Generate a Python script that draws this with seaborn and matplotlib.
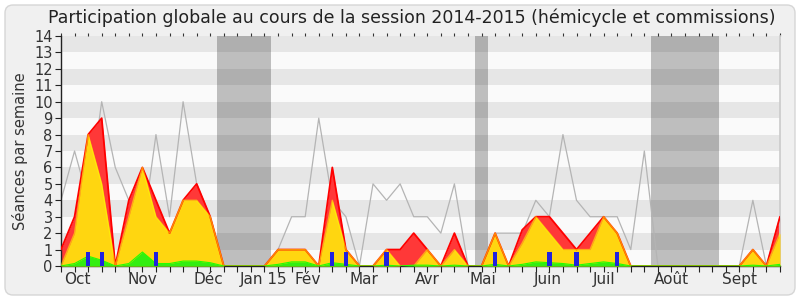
import numpy as np
import pandas as pd
import matplotlib
matplotlib.use("Agg")
import matplotlib.pyplot as plt
import seaborn as sns
from matplotlib.patches import FancyBboxPatch

# ---------------- data ----------------
weeks = list(range(54))
mediane = [4, 7, 4, 10, 6, 4, 2, 8, 3, 10, 5, 3, 0, 0, 0, 0, 1, 3, 3, 9,
           4, 3, 0, 5, 4, 5, 3, 3, 2, 5, 0, 0, 2, 2, 2, 4, 3, 8, 4, 3,
           3, 3, 1, 7, 0, 0, 0, 0, 0, 0, 0, 4, 0, 3]
seances_total = [1, 3, 8, 9, 0, 4, 6, 4, 2, 4, 5, 3, 0, 0, 0, 0, 1, 1, 1, 0,
                 6, 1, 0, 0, 1, 1, 2, 1, 0, 2, 0, 0, 2, 0, 2.2, 3, 3, 2, 1, 2,
                 3, 2, 0, 0, 0, 0, 0, 0, 0, 0, 0, 1, 0, 3]
seances_commission = [0, 2, 8, 5, 0, 3, 6, 3, 2, 4, 4, 3, 0, 0, 0, 0, 1, 1, 1, 0,
                      4, 1, 0, 0, 1, 0, 0, 1, 0, 1, 0, 0, 2, 0, 1.4, 3, 2, 1, 1, 1,
                      3, 2, 0, 0, 0, 0, 0, 0, 0, 0, 0, 1, 0, 2]
interventions = [0, 0.15, 0.6, 0.35, 0, 0.15, 0.85, 0.15, 0.15, 0.3, 0.3, 0.2, 0, 0, 0, 0,
                 0.1, 0.25, 0.25, 0, 0.2, 0.1, 0, 0, 0.05, 0, 0.05, 0.05, 0, 0.05,
                 0, 0, 0.1, 0, 0.1, 0.25, 0.2, 0.15, 0.05, 0.15, 0.25, 0.15, 0,
                 0, 0, 0, 0, 0, 0, 0, 0, 0.05, 0, 0.1]
question_weeks = [2, 3, 7, 20, 21, 24, 32, 36, 38, 41]
question_heights = [0.85, 0.85, 0.85, 0.85, 0.85, 0.85, 0.85, 0.85, 0.85, 0.85]
vacances = [(11.5, 15.5), (30.5, 31.5), (43.5, 48.5)]
month_labels = ["Oct", "Nov", "Déc", "Jan 15", "Fév", "Mar", "Avr", "Mai",
                "Juin", "Juil", "Août", "Sept"]
month_pos = [1.2, 6.0, 10.9, 14.9, 18.2, 22.3, 27.0, 31.1, 35.9, 40.0, 45.0, 50.0]
y_ticks = list(range(0, 15))
title = "Participation globale au cours de la session 2014-2015 (hémicycle et commissions)"
ylabel = "Séances par semaine"

df = pd.DataFrame({"semaine": weeks, "mediane": mediane, "total": seances_total,
                   "commission": seances_commission, "interventions": interventions})

# ---------------- style ----------------
sns.set_theme(style="white")
plt.rcParams["font.family"] = ["DejaVu Sans"]
TXT = "#333333"

fig = plt.figure(figsize=(8, 3), dpi=100, facecolor="white")
frame = FancyBboxPatch((5, 5), 790, 290, boxstyle="round,pad=0,rounding_size=8",
                       transform=None, facecolor="#f0f0f0", edgecolor="#d6d6d6",
                       linewidth=1, zorder=-10)
fig.patches.append(frame)

ax = fig.add_axes([61 / 800, 34 / 300, 719 / 800, 230 / 300])
ax.set_facecolor("#fafafa")
for k in range(1, 14, 2):
    ax.axhspan(k, k + 1, color="#e6e6e6", lw=0, zorder=0)
for a, b in vacances:
    ax.axvspan(a, b, color="black", alpha=0.24, lw=0, zorder=0.5)

# grey median line
sns.lineplot(data=df, x="semaine", y="mediane", ax=ax, color="#b4b4b4",
             linewidth=0.9, zorder=1)

# areas
ax.fill_between(df["semaine"], 0, df["total"], color="#ff3838", lw=0, zorder=2)
ax.fill_between(df["semaine"], 0, df["commission"], color="#ffd610", lw=0, zorder=3)
ax.fill_between(df["semaine"], 0, df["interventions"], color="#33ee11", lw=0, zorder=4)

sns.lineplot(data=df, x="semaine", y="total", ax=ax, color="#ff0000",
             linewidth=1.3, zorder=3.5)
sns.lineplot(data=df, x="semaine", y="commission", ax=ax, color="#ffff00",
             linewidth=1.0, alpha=0.55, zorder=3.6)
sns.lineplot(data=df, x="semaine", y="interventions", ax=ax, color="#22ff00",
             linewidth=0.8, zorder=4.1)

ax.bar(question_weeks, question_heights, width=0.32, color="#2222dd", lw=0, zorder=5)

ax.set_xlim(0, 53)
ax.set_ylim(0, 14)

# axes and ticks
ax.xaxis.remove_overlapping_locs = False
ax.set_xticks(weeks)
ax.set_xticklabels([])
ax.tick_params(axis="x", which="major", bottom=True, length=4, width=0.8,
               direction="out", color="#222222")
ax.set_xticks(month_pos, minor=True)
ax.set_xticklabels(month_labels, minor=True)
ax.tick_params(axis="x", which="minor", bottom=True, length=0, pad=4.5,
               labelsize=11, labelcolor=TXT)
ax.set_yticks(y_ticks)
ax.set_yticklabels([str(v) for v in y_ticks])
ax.tick_params(axis="y", left=True, length=4, width=0.8, direction="out",
               color="#222222", labelsize=10.5, labelcolor=TXT, pad=2)

top = ax.secondary_xaxis("top")
top.set_xticks(weeks)
top.set_xticklabels([])
top.tick_params(length=2, width=0.8, color="#333333", direction="out")
top.spines["top"].set_visible(False)

ax.spines["top"].set_visible(False)
ax.spines["right"].set_color("#cccccc")
ax.spines["left"].set_color("#222222")
ax.spines["bottom"].set_color("#222222")
for s in ("left", "bottom"):
    ax.spines[s].set_linewidth(1.0)
ax.grid(False)

ax.set_xlabel("")
ax.set_ylabel(ylabel, fontsize=10.5, color=TXT, labelpad=4)
fig.text(412 / 800, 1 - 18 / 300, title, ha="center", va="center",
         fontsize=12.5, color="#222222")

fig.savefig("out.png", dpi=100, facecolor="white")
